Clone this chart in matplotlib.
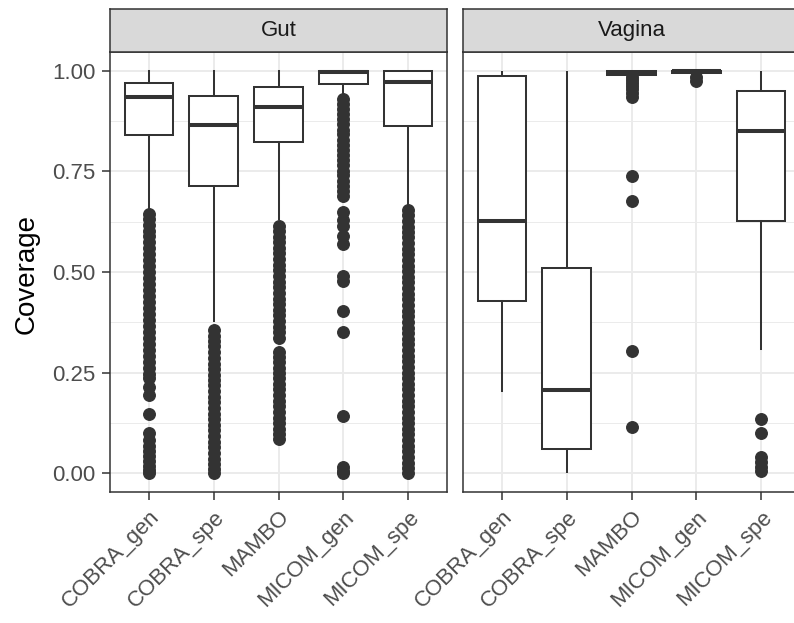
import matplotlib
matplotlib.use("Agg")
import matplotlib.pyplot as plt

plt.rcParams['font.family'] = ['Liberation Sans', 'DejaVu Sans']

methods = ["COBRA_gen", "COBRA_spe", "MAMBO", "MICOM_gen", "MICOM_spe"]
panels = ["Gut", "Vagina"]
y_ticks = [0.00, 0.25, 0.50, 0.75, 1.00]
y_ticklabels = ["0.00", "0.25", "0.50", "0.75", "1.00"]

# Box summaries per method: (lower whisker, Q1, median, Q3, upper whisker)
gut_stats = {
    "COBRA_gen": (0.650, 0.840, 0.935, 0.970, 1.000),
    "COBRA_spe": (0.378, 0.714, 0.866, 0.938, 1.000),
    "MAMBO":     (0.632, 0.823, 0.910, 0.960, 1.000),
    "MICOM_gen": (0.936, 0.968, 0.997, 1.000, 1.000),
    "MICOM_spe": (0.660, 0.864, 0.972, 1.000, 1.000),
}
vagina_stats = {
    "COBRA_gen": (0.204, 0.428, 0.627, 0.988, 0.998),
    "COBRA_spe": (0.002, 0.060, 0.206, 0.510, 0.998),
    "MAMBO":     (0.990, 0.990, 0.996, 1.000, 1.000),
    "MICOM_gen": (0.996, 0.996, 1.000, 1.000, 1.000),
    "MICOM_spe": (0.308, 0.627, 0.851, 0.950, 0.998),
}

# Outlying samples per method
gut_outliers = {
    "COBRA_gen": [0.645, 0.632, 0.618, 0.603, 0.590, 0.574, 0.560, 0.545, 0.531,
                  0.515, 0.500, 0.486, 0.470, 0.455, 0.441, 0.425, 0.410, 0.396,
                  0.380, 0.366, 0.350, 0.335, 0.321, 0.305, 0.290, 0.276, 0.262,
                  0.247, 0.236, 0.215, 0.195, 0.147, 0.100, 0.082, 0.068, 0.055,
                  0.042, 0.030, 0.018, 0.008, 0.000],
    "COBRA_spe": [0.355, 0.342, 0.328, 0.315, 0.300, 0.287, 0.272, 0.259, 0.245,
                  0.231, 0.218, 0.204, 0.190, 0.176, 0.162, 0.148, 0.134, 0.120,
                  0.106, 0.092, 0.078, 0.064, 0.050, 0.036, 0.022, 0.010, 0.000],
    "MAMBO":     [0.615, 0.602, 0.588, 0.574, 0.560, 0.546, 0.532, 0.518, 0.504,
                  0.490, 0.476, 0.462, 0.448, 0.434, 0.420, 0.406, 0.392, 0.378,
                  0.364, 0.350, 0.336, 0.300, 0.288, 0.275, 0.262, 0.249, 0.236,
                  0.222, 0.208, 0.194, 0.180, 0.166, 0.152, 0.138, 0.124, 0.110,
                  0.097, 0.085],
    "MICOM_gen": [0.930, 0.918, 0.905, 0.892, 0.880, 0.867, 0.854, 0.842, 0.829,
                  0.816, 0.803, 0.790, 0.778, 0.765, 0.752, 0.740, 0.727, 0.714,
                  0.702, 0.690, 0.649, 0.630, 0.615, 0.590, 0.570, 0.490, 0.478,
                  0.403, 0.350, 0.142, 0.015, 0.005, 0.000],
    "MICOM_spe": [0.655, 0.641, 0.627, 0.613, 0.600, 0.586, 0.572, 0.558, 0.544,
                  0.530, 0.516, 0.502, 0.488, 0.474, 0.460, 0.446, 0.432, 0.418,
                  0.404, 0.390, 0.376, 0.362, 0.348, 0.334, 0.320, 0.306, 0.292,
                  0.278, 0.264, 0.250, 0.236, 0.222, 0.208, 0.194, 0.180, 0.166,
                  0.152, 0.138, 0.124, 0.110, 0.096, 0.082, 0.068, 0.054, 0.040,
                  0.026, 0.012, 0.000],
}
vagina_outliers = {
    "COBRA_gen": [],
    "COBRA_spe": [],
    "MAMBO":     [0.985, 0.978, 0.970, 0.962, 0.954, 0.946, 0.935, 0.739, 0.677,
                  0.304, 0.114],
    "MICOM_gen": [0.986, 0.976],
    "MICOM_spe": [0.134, 0.100, 0.040, 0.028, 0.015, 0.005],
}

W, H = 794, 623
fig = plt.figure(figsize=(W / 100, H / 100), dpi=100)

DARK = "#333333"
GRID = "#EBEBEB"
TICK_TXT = "#4D4D4D"


def px_rect(x0, y0, x1, y1):
    return [x0 / W, 1 - y1 / H, (x1 - x0) / W, (y1 - y0) / H]


def draw_panel(x0, title, stats, outliers, show_y):
    ax = fig.add_axes(px_rect(x0, 52, x0 + 337, 492))
    bxp_stats = []
    for m in methods:
        lo, q1, med, q3, hi = stats[m]
        bxp_stats.append(dict(whislo=lo, q1=q1, med=med, q3=q3, whishi=hi,
                              fliers=outliers[m], label=m))
    ax.bxp(bxp_stats, positions=range(1, len(methods) + 1), widths=0.75,
           showcaps=False, patch_artist=True,
           boxprops=dict(facecolor="white", edgecolor=DARK, linewidth=1.45),
           medianprops=dict(color=DARK, linewidth=2.9, solid_capstyle="butt"),
           whiskerprops=dict(color=DARK, linewidth=1.45),
           flierprops=dict(marker="o", markerfacecolor=DARK, markeredgecolor=DARK,
                           markersize=8.3, linestyle="none"),
           zorder=3)
    ax.set_xlim(0.4, 5.6)
    ax.set_ylim(-0.047, 1.047)
    ax.set_yticks(y_ticks)
    ax.set_yticks([0.125, 0.375, 0.625, 0.875], minor=True)
    ax.set_xticks(range(1, len(methods) + 1))
    ax.set_xticklabels(methods, rotation=45, ha="right", va="top",
                       rotation_mode="anchor", fontsize=16, color=TICK_TXT)
    if show_y:
        ax.set_yticklabels(y_ticklabels, fontsize=16, color=TICK_TXT)
    else:
        ax.tick_params(axis="y", which="both", left=False, labelleft=False)
    ax.tick_params(axis="both", which="major", length=5.5, width=1.1,
                   color=DARK, pad=5)
    ax.tick_params(axis="y", which="minor", left=False)
    ax.grid(True, which="major", color=GRID, linewidth=1.4, zorder=0)
    ax.grid(True, which="minor", axis="y", color=GRID, linewidth=0.7, zorder=0)
    ax.set_axisbelow(True)
    for sp in ax.spines.values():
        sp.set_color(DARK)
        sp.set_linewidth(1.1)
        sp.set_zorder(5)

    sax = fig.add_axes(px_rect(x0, 9, x0 + 337, 52))
    sax.set_facecolor("#D9D9D9")
    sax.set_xticks([])
    sax.set_yticks([])
    for sp in sax.spines.values():
        sp.set_color(DARK)
        sp.set_linewidth(1.1)
    sax.text(0.5, 0.5, title, ha="center", va="center", fontsize=16,
             color="#1A1A1A", transform=sax.transAxes)
    return ax


draw_panel(110, panels[0], gut_stats, gut_outliers, True)
draw_panel(463, panels[1], vagina_stats, vagina_outliers, False)

fig.text(27 / W, 1 - 274 / H, "Coverage", rotation=90, ha="center", va="center",
         fontsize=20, color="black")

fig.savefig("out.png", dpi=100)
